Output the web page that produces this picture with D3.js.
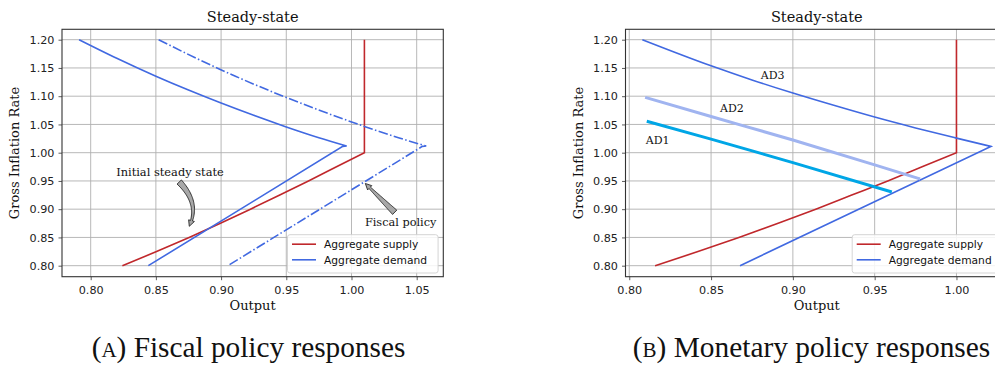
<!DOCTYPE html>
<html>
<head>
<meta charset="utf-8">
<script src="https://cdn.jsdelivr.net/npm/d3@7"></script>
<style>
  html, body { margin: 0; padding: 0; background: #fff; }
  svg { display: block; }
</style>
</head>
<body>
<svg id="fig" width="995" height="365"></svg>
<script>
// ---- Data: (output, gross inflation) pairs ----
const inflationTicks = [0.80, 0.85, 0.90, 0.95, 1.00, 1.05, 1.10, 1.15, 1.20];
const fiscalOutputTicks = [0.80, 0.85, 0.90, 0.95, 1.00, 1.05];
const monetaryOutputTicks = [0.80, 0.85, 0.90, 0.95, 1.00];

// Panel A: fiscal policy
const supplyFiscal = [[0.8243,0.80],[0.8505,0.825],[0.8755,0.85],[0.8995,0.875],[0.9225,0.90],
  [0.9450,0.925],[0.9670,0.95],[0.9885,0.975],[1.0099,1.00],[1.0099,1.20]];
const demandInitial = [[0.7911,1.200],[0.82,1.1671],[0.85,1.1353],[0.875,1.1108],[0.90,1.0878],
  [0.925,1.0661],[0.95,1.0456],[0.975,1.0265],[0.9963,1.0118],[0.9933,1.0112],[0.8442,0.80]];
const demandFiscal = [[0.8521,1.200],[0.881,1.1671],[0.911,1.1353],[0.936,1.1108],[0.961,1.0878],
  [0.986,1.0661],[1.011,1.0456],[1.036,1.0265],[1.0573,1.0118],[1.0543,1.0112],[0.9052,0.80]];

// Panel B: monetary policy
const supplyMonetary = [[0.8158,0.80],[0.842,0.825],[0.867,0.85],[0.891,0.875],[0.914,0.90],
  [0.936,0.925],[0.958,0.95],[0.979,0.975],[1.000,1.00],[1.000,1.20]];
const demandAD3 = [[0.808,1.200],[0.85,1.1538],[0.875,1.1288],[0.90,1.1055],[0.925,1.0838],
  [0.95,1.063],[0.975,1.0438],[1.00,1.0258],[1.021,1.0111],[0.8677,0.80]];
const demandAD2 = [[0.8097,1.098],[0.85,1.064],[0.90,1.0225],[0.95,0.9785],[0.9778,0.9534]];
const demandAD1 = [[0.8107,1.0556],[0.85,1.0240],[0.90,0.9825],[0.9605,0.9304]];

const curveLabels = [
  { text: "AD3", x: 0.8877, y: 1.138 },
  { text: "AD2", x: 0.8627, y: 1.078 },
  { text: "AD1", x: 0.8174, y: 1.022 }
];

const legendItems = [
  { label: "Aggregate supply", color: "#c0282c" },
  { label: "Aggregate demand", color: "#4169e1" }
];

// ---- Styling ----
const SERIF = "'DejaVu Serif', serif";
const SANS = "'DejaVu Sans', sans-serif";
const RED = "#c0282c", BLUE = "#4169e1", LIGHTBLUE = "#a0b4f0", SKY = "#00a6e6";

const svg = d3.select("#fig");
const plotTop = 29.3, plotBottom = 276.7;

function buildPanel(opts) {
  const x = d3.scaleLinear().domain(opts.xDomain).range([opts.left, opts.right]);
  const y = d3.scaleLinear().domain([0.7805, 1.2184]).range([plotBottom, plotTop]);
  const g = svg.append("g");

  // grid
  g.append("g").selectAll("line").data(opts.xTicks).join("line")
    .attr("x1", d => x(d)).attr("x2", d => x(d))
    .attr("y1", plotTop).attr("y2", plotBottom)
    .attr("stroke", "#b0b0b0").attr("stroke-width", 0.9);
  g.append("g").selectAll("line").data(inflationTicks).join("line")
    .attr("x1", opts.left).attr("x2", opts.right)
    .attr("y1", d => y(d)).attr("y2", d => y(d))
    .attr("stroke", "#b0b0b0").attr("stroke-width", 0.9);

  // axes
  const xAxis = d3.axisBottom(x).tickValues(opts.xTicks).tickFormat(d3.format(".2f"))
    .tickSizeInner(3.5).tickSizeOuter(0).tickPadding(4);
  const yAxis = d3.axisLeft(y).tickValues(inflationTicks).tickFormat(d3.format(".2f"))
    .tickSizeInner(3.5).tickSizeOuter(0).tickPadding(4);
  const gx = g.append("g").attr("transform", `translate(0,${plotBottom})`).call(xAxis);
  const gy = g.append("g").attr("transform", `translate(${opts.left},0)`).call(yAxis);
  [gx, gy].forEach(a => {
    a.select(".domain").remove();
    a.selectAll(".tick line").attr("stroke", "#333").attr("stroke-width", 0.8);
    a.selectAll(".tick text").attr("fill", "#222").style("font-family", SANS).style("font-size", "11.2px");
  });
  gx.selectAll(".tick text").attr("dy", "0.9em");

  // smooth along the first `smooth` points, straight afterwards
  const smoothLine = d3.line().x(d => x(d[0])).y(d => y(d[1])).curve(d3.curveMonotoneX);
  const straightLine = d3.line().x(d => x(d[0])).y(d => y(d[1]));
  const pathOf = s => {
    const n = s.smooth || 0;
    if (n < 2) return straightLine(s.data);
    const head = smoothLine(s.data.slice(0, n));
    if (n >= s.data.length) return head;
    return head + straightLine(s.data.slice(n - 1)).replace(/^M/, "L");
  };

  const clipId = "clip" + opts.id;
  g.append("clipPath").attr("id", clipId).append("rect")
    .attr("x", opts.left).attr("y", plotTop)
    .attr("width", opts.right - opts.left).attr("height", plotBottom - plotTop);
  const curves = g.append("g").attr("clip-path", `url(#${clipId})`);
  opts.series.forEach(s => {
    curves.append("path").attr("d", pathOf(s))
      .attr("fill", "none").attr("stroke", s.color).attr("stroke-width", s.width)
      .attr("stroke-dasharray", s.dash || null)
      .attr("stroke-linejoin", "miter").attr("stroke-linecap", "butt");
  });

  // frame
  g.append("rect").attr("x", opts.left).attr("y", plotTop)
    .attr("width", opts.right - opts.left).attr("height", plotBottom - plotTop)
    .attr("fill", "none").attr("stroke", "#333").attr("stroke-width", 1.1);

  // titles
  const cx = (opts.left + opts.right) / 2;
  g.append("text").attr("x", cx).attr("y", 22).attr("text-anchor", "middle")
    .style("font-family", SERIF).style("font-size", "14.5px").attr("fill", "#111").text("Steady-state");
  g.append("text").attr("x", cx).attr("y", 310).attr("text-anchor", "middle")
    .style("font-family", SERIF).style("font-size", "13px").attr("fill", "#111").text("Output");
  g.append("text").attr("transform", `translate(${opts.left - 43},${(plotTop + plotBottom) / 2}) rotate(-90)`)
    .attr("text-anchor", "middle")
    .style("font-family", SERIF).style("font-size", "13px").attr("fill", "#111").text("Gross Inflation Rate");

  // legend (lower right)
  const lw = 150.6, lh = 38.3;
  const lx = opts.right - 5.2 - lw, ly = plotBottom - 3.7 - lh;
  const lg = g.append("g");
  lg.append("rect").attr("x", lx).attr("y", ly).attr("width", lw).attr("height", lh)
    .attr("rx", 2.5).attr("fill", "#fff").attr("fill-opacity", 0.85)
    .attr("stroke", "#d0d0d0").attr("stroke-width", 0.9);
  legendItems.forEach((it, i) => {
    const yy = ly + 9.5 + i * 15.6;
    lg.append("line").attr("x1", lx + 4.5).attr("x2", lx + 28.5).attr("y1", yy).attr("y2", yy)
      .attr("stroke", it.color).attr("stroke-width", 1.6);
    lg.append("text").attr("x", lx + 36.5).attr("y", yy).attr("dy", "0.35em")
      .style("font-family", SANS).style("font-size", "10.7px").attr("fill", "#111").text(it.label);
  });

  return { g, x, y };
}

// Filled "fancy" arrow along a quadratic path, tapering tail with a head
function fancyArrow(g, p0, ctrl, p1, tailW, neckW, headW, headL) {
  const N = 40;
  const pt = t => [
    (1 - t) * (1 - t) * p0[0] + 2 * (1 - t) * t * ctrl[0] + t * t * p1[0],
    (1 - t) * (1 - t) * p0[1] + 2 * (1 - t) * t * ctrl[1] + t * t * p1[1]
  ];
  const pts = d3.range(N + 1).map(i => pt(i / N));
  let len = 0; const cum = [0];
  for (let i = 1; i <= N; i++) { len += Math.hypot(pts[i][0] - pts[i-1][0], pts[i][1] - pts[i-1][1]); cum.push(len); }
  const baseIdx = cum.findIndex(c => c >= len - headL);
  const left = [], right = [];
  for (let i = 0; i <= baseIdx; i++) {
    const a = pts[Math.max(0, i - 1)], b = pts[Math.min(N, i + 1)];
    const dx = b[0] - a[0], dy = b[1] - a[1], m = Math.hypot(dx, dy);
    const nx = -dy / m, ny = dx / m;
    const w = (tailW + (neckW - tailW) * (cum[i] / cum[baseIdx])) / 2;
    left.push([pts[i][0] + nx * w, pts[i][1] + ny * w]);
    right.push([pts[i][0] - nx * w, pts[i][1] - ny * w]);
  }
  const b = pts[baseIdx], a = pts[Math.max(0, baseIdx - 1)];
  const dx = b[0] - a[0], dy = b[1] - a[1], m = Math.hypot(dx, dy);
  const nx = -dy / m, ny = dx / m;
  const poly = [...left,
    [b[0] + nx * headW / 2, b[1] + ny * headW / 2], p1,
    [b[0] - nx * headW / 2, b[1] - ny * headW / 2],
    ...right.reverse()];
  g.append("path").attr("d", "M" + poly.map(p => p.join(",")).join("L") + "Z")
    .attr("fill", "#a8a8a8").attr("stroke", "#111").attr("stroke-width", 0.8)
    .attr("stroke-linejoin", "miter");
}

// ---- Panel A ----
const A = buildPanel({
  id: "A", left: 62, right: 443.3, xDomain: [0.778, 1.0704], xTicks: fiscalOutputTicks,
  series: [
    { data: supplyFiscal, color: RED, width: 1.6, smooth: 9 },
    { data: demandInitial, color: BLUE, width: 1.6, smooth: 9 },
    { data: demandFiscal, color: BLUE, width: 1.6, smooth: 9, dash: "9.6,2.4,1.5,2.4" }
  ]
});
A.g.append("text").attr("x", A.x(0.8608)).attr("y", A.y(0.9655)).attr("dy", "0.35em")
  .attr("text-anchor", "middle").style("font-family", SERIF).style("font-size", "11.4px")
  .attr("fill", "#111").text("Initial steady state");
A.g.append("text").attr("x", A.x(1.0377)).attr("y", A.y(0.8773)).attr("dy", "0.35em")
  .attr("text-anchor", "middle").style("font-family", SERIF).style("font-size", "11.3px")
  .attr("fill", "#111").text("Fiscal policy");
fancyArrow(A.g, [A.x(0.8679), A.y(0.9481)], [A.x(0.8840), A.y(0.9098)], [A.x(0.8756), A.y(0.8697)], 6, 2, 6, 6.5);
fancyArrow(A.g, [A.x(1.0331), A.y(0.8945)], [A.x(1.0218), A.y(0.9200)], [A.x(1.0106), A.y(0.9455)], 6, 2, 6, 6.5);

// ---- Panel B ----
const B = buildPanel({
  id: "B", left: 625.5, right: 1008, xDomain: [0.7977, 1.0315], xTicks: monetaryOutputTicks,
  series: [
    { data: supplyMonetary, color: RED, width: 1.6, smooth: 9 },
    { data: demandAD3, color: BLUE, width: 1.6, smooth: 9 },
    { data: demandAD2, color: LIGHTBLUE, width: 3, smooth: 5 },
    { data: demandAD1, color: SKY, width: 3, smooth: 4 }
  ]
});
B.g.selectAll("text.adlabel").data(curveLabels).join("text").attr("class", "adlabel")
  .attr("x", d => B.x(d.x)).attr("y", d => B.y(d.y)).attr("dy", "0.35em")
  .attr("text-anchor", "middle").style("font-family", SERIF).style("font-size", "11px")
  .attr("fill", "#111").text(d => d.text);

// ---- Sub-captions ----
const captions = [
  { tag: "a", rest: " Fiscal policy responses", cx: 248.5, w: 313 },
  { tag: "b", rest: " Monetary policy responses", cx: 811.5, w: 357 }
];
captions.forEach(c => {
  const t = svg.append("text").attr("y", 357).attr("text-anchor", "middle")
    .style("font-family", "'Liberation Serif', serif").style("font-size", "22px").attr("fill", "#111");
  t.append("tspan").text("(");
  t.append("tspan").style("font-variant", "small-caps").text(c.tag);
  t.append("tspan").text(")" + c.rest);
  const w = t.node().getComputedTextLength();
  t.style("font-size", (22 * c.w / w).toFixed(2) + "px").attr("x", c.cx);
});
</script>
</body>
</html>
